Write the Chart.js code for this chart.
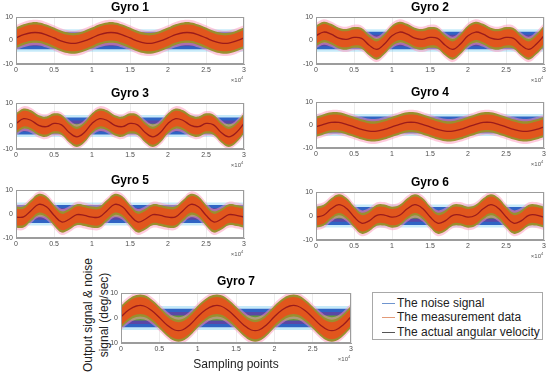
<!DOCTYPE html>
<html>
<head>
<meta charset="utf-8">
<script src="https://cdn.jsdelivr.net/npm/chart.js@4.4.1/dist/chart.umd.min.js"></script>
<style>
  body { margin: 0; background: #fff; width: 550px; height: 375px; position: relative; overflow: hidden;
         font-family: "Liberation Sans", Arial, sans-serif; }
  canvas { position: absolute; }
  #legend { position: absolute; left: 372px; top: 292px; width: 171px; height: 48px; box-sizing: border-box;
            border: 1px solid #a8a8a8; font-size: 12px; color: #222; background: #fff; }
  .row { position: absolute; left: 9px; height: 14px; line-height: 14px; white-space: nowrap; }
  .row i { display: inline-block; width: 13px; height: 0; border-top: 1px solid; vertical-align: middle; margin-right: 2px; }
  #ylabel { position: absolute; left: 30px; top: 299px; width: 131px; height: 32px; line-height: 16px;
            font-size: 12px; color: #222; text-align: center; white-space: nowrap; transform: rotate(-90deg); }
</style>
</head>
<body>
<div id="ylabel">Output signal &amp; noise<br>signal (deg/sec)</div>
<div id="legend">
  <div class="row" style="top:3px"><i style="border-color:#6f95cf"></i>The noise signal</div>
  <div class="row" style="top:17px"><i style="border-color:#e39a78"></i>The measurement data</div>
  <div class="row" style="top:32px"><i style="border-color:#555"></i>The actual angular velocity</div>
</div>
<script>
// sampling points (every 1000 samples)
const sampleIdx = [0, 1000, 2000, 3000, 4000, 5000, 6000, 7000, 8000, 9000,
  10000, 11000, 12000, 13000, 14000, 15000, 16000, 17000, 18000, 19000,
  20000, 21000, 22000, 23000, 24000, 25000, 26000, 27000, 28000, 29000, 30000];
const yTickVals = [-10, 0, 10];
const gyroNames = ['Gyro 1', 'Gyro 2', 'Gyro 3', 'Gyro 4', 'Gyro 5', 'Gyro 6', 'Gyro 7'];

// actual angular velocity
const gyro1Actual = [1.1, 2.5, 3.3, 3.3, 2.4, 1.1, -0.3, -1.1, -1.1, -0.2,
  1.1, 2.5, 3.3, 3.3, 2.4, 1.1, -0.3, -1.1, -1.1, -0.2,
  1.1, 2.5, 3.3, 3.3, 2.4, 1.1, -0.3, -1.1, -1.1, -0.2, 1.1];
const gyro2Actual = [2.0, 3.6, 2.7, 1.0, 0.5, 1.3, 0.9, -2.0, -3.8, -1.5,
  2.0, 3.6, 2.7, 1.0, 0.5, 1.3, 0.9, -2.0, -3.8, -1.5,
  2.0, 3.6, 2.7, 1.0, 0.5, 1.3, 0.9, -2.0, -3.8, -1.5, 2.0];
const gyro3Actual = [1.1, 3.2, 2.4, 0.3, -0.3, 1.1, 0.5, -2.8, -4.7, -2.8,
  1.1, 3.2, 2.4, 0.3, -0.3, 1.1, 0.5, -2.8, -4.7, -2.8,
  1.1, 3.2, 2.4, 0.3, -0.3, 1.1, 0.5, -2.8, -4.7, -2.8, 1.1];
const gyro4Actual = [-0.8, 0.3, 1.1, 1.1, 0.3, -0.8, -1.9, -2.7, -2.7, -1.9,
  -0.8, 0.3, 1.1, 1.1, 0.3, -0.8, -1.9, -2.7, -2.7, -1.9,
  -0.8, 0.3, 1.1, 1.1, 0.3, -0.8, -1.9, -2.7, -2.7, -1.9, -0.8];
const gyro5Actual = [-1.3, -1.2, 1.5, 4.0, 3.0, -0.5, -3.3, -2.2, -0.3, -0.6,
  -1.3, -1.2, 1.5, 4.0, 3.0, -0.5, -3.3, -2.2, -0.3, -0.6,
  -1.3, -1.2, 1.5, 4.0, 3.0, -0.5, -3.3, -2.2, -0.3, -0.6, -1.3];
const gyro6Actual = [-0.5, 0.3, 3.0, 4.7, 3.2, -0.3, -3.0, -2.0, 0.3, 0.4,
  -0.5, 0.3, 3.0, 4.7, 3.2, -0.3, -3.0, -2.0, 0.3, 0.4,
  -0.5, 0.3, 3.0, 4.7, 3.2, -0.3, -3.0, -2.0, 0.3, 0.4, -0.5];
const gyro7Actual = [0.5, 3.2, 4.8, 4.8, 3.0, 0.2, -2.8, -4.8, -4.8, -2.7,
  0.5, 3.2, 4.8, 4.8, 3.0, 0.2, -2.8, -4.8, -4.8, -2.7,
  0.5, 3.2, 4.8, 4.8, 3.0, 0.2, -2.8, -4.8, -4.8, -2.7, 0.5];
const actualSeries = [gyro1Actual, gyro2Actual, gyro3Actual, gyro4Actual, gyro5Actual, gyro6Actual, gyro7Actual];

// envelope half-widths of the noisy traces (deg/sec)
const noiseEnvelope = [4.8, 3.7, 2.4, 1.0];   // outer spikes, body, inner, core
const measEnvelope = [5.4, 4.4, 3.4];         // fringe, edge, body (around actual)

const noiseColors = ['rgba(92,195,238,0.35)', '#2f64c4', 'rgba(126,47,142,0.55)', '#5f9e3a'];
const measColors = ['rgba(255,150,185,0.5)', '#98902f', '#e1561d'];

// panel placement: canvas box + axis sizes
const panels = [
  { x: 0,   y: 0,   w: 250, h: 84,  yw: 16, xh: 20 },
  { x: 300, y: 0,   w: 250, h: 84,  yw: 16, xh: 20 },
  { x: 0,   y: 86,  w: 250, h: 83,  yw: 16, xh: 20 },
  { x: 300, y: 85,  w: 250, h: 83,  yw: 16, xh: 20 },
  { x: 0,   y: 173, w: 250, h: 85,  yw: 16, xh: 20 },
  { x: 300, y: 175, w: 250, h: 85,  yw: 16, xh: 20 },
  { x: 105, y: 274, w: 252, h: 101, yw: 16, xh: 32, titlePad: 4.6, axisTitle: true }
];

Chart.defaults.font.family = '"Liberation Sans", Arial, sans-serif';

const framePlugin = {
  id: 'frame',
  afterDraw(chart) {
    const { ctx, chartArea: a } = chart;
    ctx.save();
    ctx.strokeStyle = '#9c9c9c';
    ctx.lineWidth = 1;
    ctx.strokeRect(Math.round(a.left) + 0.5, Math.round(a.top) + 0.5,
      Math.round(a.right - a.left) - 1, Math.round(a.bottom - a.top) - 1);
    ctx.fillStyle = '#555';
    ctx.textBaseline = 'middle';
    ctx.textAlign = 'right';
    ctx.font = '6px "Liberation Sans", Arial';
    ctx.fillText('×10', a.right - 3, a.bottom + 16);
    ctx.textAlign = 'left';
    ctx.font = '4px "Liberation Sans", Arial';
    ctx.fillText('4', a.right - 3, a.bottom + 14);
    ctx.restore();
  }
};

function bandPair(datasets, upper, lower, color, order) {
  datasets.push({
    data: sampleIdx.map((x, k) => ({ x: x, y: upper[k] })),
    fill: '+1', backgroundColor: color, borderWidth: 0, pointRadius: 0, tension: 0.4, order: order
  });
  datasets.push({
    data: sampleIdx.map((x, k) => ({ x: x, y: lower[k] })),
    fill: false, borderWidth: 0, pointRadius: 0, tension: 0.4, order: order
  });
}

function makePanel(i) {
  const p = panels[i];
  const actual = actualSeries[i];
  const cv = document.createElement('canvas');
  cv.width = p.w; cv.height = p.h;
  cv.style.left = p.x + 'px'; cv.style.top = p.y + 'px';
  document.body.appendChild(cv);

  const datasets = [];
  noiseEnvelope.forEach((s, j) => {
    bandPair(datasets, sampleIdx.map(() => s), sampleIdx.map(() => -s), noiseColors[j], 30 - j);
  });
  measEnvelope.forEach((s, j) => {
    bandPair(datasets, actual.map(v => v + s), actual.map(v => v - s), measColors[j], 20 - j);
  });
  datasets.push({
    data: sampleIdx.map((x, k) => ({ x: x, y: actual[k] })),
    borderColor: '#9b1b1b', borderWidth: 1.3, pointRadius: 0, tension: 0.4, fill: false, order: 1
  });

  new Chart(cv, {
    type: 'line',
    data: { datasets: datasets },
    plugins: [framePlugin],
    options: {
      responsive: false,
      animation: false,
      events: [],
      layout: { padding: { left: 0, right: 6, top: 0, bottom: 0 } },
      plugins: {
        legend: { display: false },
        tooltip: { enabled: false },
        title: {
          display: true, text: gyroNames[i], color: '#000', fullSize: false,
          font: { size: 12, weight: 'bold' },
          padding: { top: 0, bottom: p.titlePad || 2.6 }
        }
      },
      scales: {
        x: {
          type: 'linear', min: 0, max: 30000,
          ticks: {
            stepSize: 5000, autoSkip: false, maxRotation: 0, padding: 2,
            font: { size: 7 }, color: '#4d4d4d',
            callback: v => String(v / 10000)
          },
          grid: { color: '#ececec', drawTicks: false },
          border: { color: '#9c9c9c' },
          title: {
            display: !!p.axisTitle, text: 'Sampling points', color: '#222',
            font: { size: 12 }, padding: { top: 0, bottom: 3 }
          },
          afterFit: s => { s.height = p.xh; s.paddingLeft = 0; s.paddingRight = 0; }
        },
        y: {
          min: -10, max: 10,
          afterBuildTicks: s => { s.ticks = yTickVals.map(v => ({ value: v })); },
          ticks: { padding: 3, font: { size: 7 }, color: '#4d4d4d' },
          grid: { color: '#ececec', drawTicks: false },
          border: { color: '#9c9c9c' },
          afterFit: s => { s.width = p.yw; s.paddingTop = 0; s.paddingBottom = 0; }
        }
      }
    }
  });
}

for (let i = 0; i < panels.length; i++) makePanel(i);
</script>
</body>
</html>
